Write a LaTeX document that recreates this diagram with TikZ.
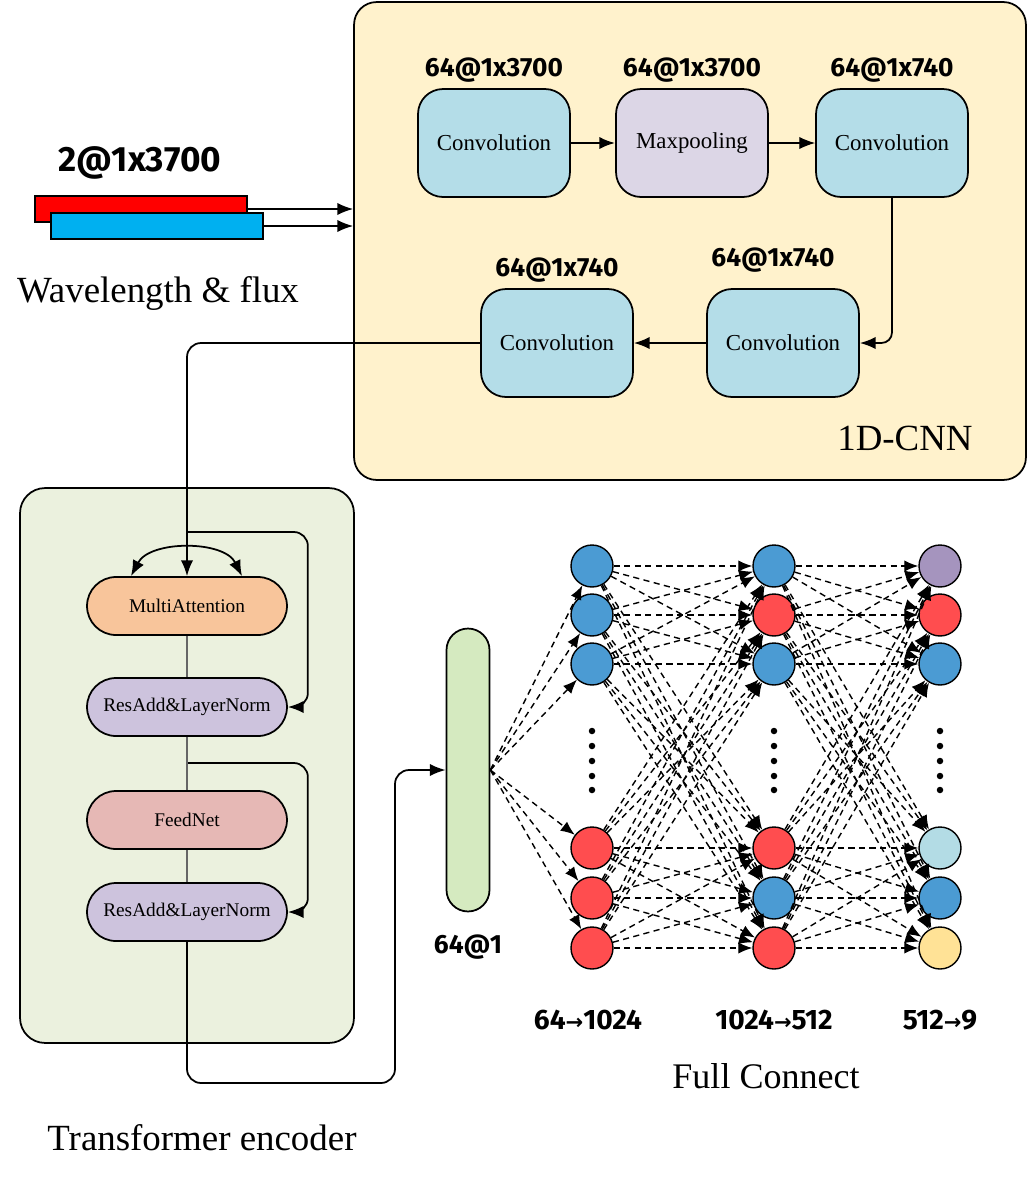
\documentclass[tikz,border=0pt]{standalone}
\usepackage{fontspec}
\setmainfont{Liberation Serif}
\newfontfamily\lblfont{Fira Sans}
\newfontfamily\arrfont{DejaVu Sans}
\usetikzlibrary{arrows.meta,calc,positioning}

\definecolor{cnnbg}{HTML}{FFF2CC}
\definecolor{convblue}{HTML}{B4DDE8}
\definecolor{poolpurple}{HTML}{DCD6E6}
\definecolor{trbg}{HTML}{EBF1DE}
\definecolor{attorange}{HTML}{F8C59B}
\definecolor{normpurple}{HTML}{CDC3DD}
\definecolor{feedpink}{HTML}{E6B8B5}
\definecolor{pillgreen}{HTML}{D5EAC0}
\definecolor{nodeblue}{HTML}{4B9BD3}
\definecolor{nodered}{HTML}{FF4D4F}
\definecolor{nodepurple}{HTML}{A594BE}
\definecolor{nodelight}{HTML}{B3DCE5}
\definecolor{nodeyellow}{HTML}{FFE296}
\definecolor{inred}{HTML}{FF0000}
\definecolor{inblue}{HTML}{00B0F0}

\tikzset{
	flow/.style={draw=black,line width=1pt,-{Latex[length=9pt,width=7pt]}},
	fcedge/.style={draw=black,line width=0.8pt,dash pattern=on 3.5pt off 2.5pt,-{Latex[length=8pt,width=6.5pt]}},
	cnnbox/.style={draw,line width=1pt,rounded corners=0.5cm,minimum width=3.04cm,minimum height=2.16cm,font=\fontsize{13}{15}\selectfont},
	trbox/.style={draw,line width=1pt,rounded corners=0.58cm,minimum width=4cm,minimum height=1.16cm,font=\fontsize{11}{13}\selectfont},
	neuron/.style={circle,draw,line width=0.8pt,minimum size=0.84cm,inner sep=0pt},
	shape lbl/.style={font=\lblfont\bfseries\fontsize{15}{17}\selectfont,inner sep=1pt},
	title lbl/.style={font=\fontsize{21}{25}\selectfont},
	dotmark/.style={circle,fill=black,minimum size=0.13cm,inner sep=0pt},
}

\begin{document}
\begin{tikzpicture}[x=0.02cm,y=-0.02cm]
	\useasboundingbox (0,0) rectangle (1028,1177);
	%
	% background panels
	\node[draw,line width=1pt,fill=cnnbg,rounded corners=0.45cm,minimum width=13.44cm,minimum height=9.56cm] (cnn) at (690,241) {};
	\node[draw,line width=1pt,fill=trbg,rounded corners=0.5cm,minimum width=6.68cm,minimum height=11.1cm] (tr) at (187,765.5) {};
	\node[title lbl] (cnnname) at (905,438) {1D-CNN};
	\node[title lbl] (trname) at (202,1138) {Transformer encoder};
	\node[title lbl,font=\fontsize{20.5}{24}\selectfont] (fcname) at (766,1076) {Full Connect};
	%
	% input spectra
	\node[draw,line width=0.6pt,fill=inred,minimum width=4.24cm,minimum height=0.52cm,inner sep=0pt] (red) at (141,209) {};
	\node[draw,line width=0.6pt,fill=inblue,minimum width=4.24cm,minimum height=0.52cm,inner sep=0pt] (blue) at (157,226) {};
	\node[shape lbl,font=\lblfont\bfseries\fontsize{20}{23}\selectfont] (inlbl) at (140,163) {2@1x3700};
	\node[title lbl] (inname) at (158,293) {Wavelength \& flux};
	\draw[flow] (red.east) -- (red.east -| cnn.west);
	\draw[flow] (blue.east) -- (blue.east -| cnn.west);
	%
	% 1D-CNN
	\node[cnnbox,fill=convblue] (cv1) at (494,143) {Convolution};
	\node[cnnbox,fill=poolpurple] (pool) at (692,143) {Maxpooling};
	\node[cnnbox,fill=convblue] (cv2) at (892,143) {Convolution};
	\node[cnnbox,fill=convblue] (cv3) at (783,343) {Convolution};
	\node[cnnbox,fill=convblue] (cv4) at (557,343) {Convolution};
	\node[shape lbl,above=2pt of cv1] {64@1x3700};
	\node[shape lbl,above=2pt of pool] {64@1x3700};
	\node[shape lbl,above=2pt of cv2] {64@1x740};
	\node[shape lbl,above=8pt of cv3,xshift=-0.2cm] {64@1x740};
	\node[shape lbl,above=2pt of cv4] {64@1x740};
	\draw[flow,line width=1.3pt] (cv1) -- (pool);
	\draw[flow,line width=0.7pt] (pool) -- (cv2);
	\draw[flow,rounded corners=6pt] (cv2.south) |- (cv3.east);
	\draw[flow] (cv3) -- (cv4);
	%
	% transformer encoder
	\node[trbox,fill=attorange] (ma) at (187,606) {MultiAttention};
	\node[trbox,fill=normpurple] (rn1) at (187,707) {ResAdd\&LayerNorm};
	\node[trbox,fill=feedpink] (ff) at (187,820) {FeedNet};
	\node[trbox,fill=normpurple] (rn2) at (187,912) {ResAdd\&LayerNorm};
	\draw[flow,rounded corners=8pt] (cv4.west) -| (ma.north);
	\draw[flow,{Latex[length=9pt,width=7pt]}-{Latex[length=9pt,width=7pt]}] ($(ma.north)+(-56,0)$) .. controls (150,540) and (224,540) .. ($(ma.north)+(55,0)$);
	\coordinate (skip1) at (187,532);
	\coordinate (skip2) at (187,763);
	\draw[flow,rounded corners=8pt] (skip1) -| ($(rn1.east)+(20,0)$) -- (rn1.east);
	\draw[flow,rounded corners=8pt] (skip2) -| ($(rn2.east)+(20,0)$) -- (rn2.east);
	\draw[black!60,line width=0.7pt] (ma) -- (rn1);
	\draw[black!60,line width=0.7pt] (rn1) -- (ff);
	\draw[black!60,line width=0.7pt] (ff) -- (rn2);
	%
	% full connect
	\node[draw,line width=1pt,fill=pillgreen,rounded corners=0.43cm,minimum width=0.86cm,minimum height=5.66cm] (pill) at (468,770) {};
	\node[shape lbl,below=0.4cm of pill] {64@1};
	\coordinate (low1) at (187,1083);
	\coordinate (low2) at (395,1083);
	\draw[flow,rounded corners=8pt] (rn2.south) -- (low1) -- (low2) |- (pill.west);
	%
	\foreach \i/\yy/\cc in {1/566/nodeblue,2/615/nodeblue,3/664/nodeblue,4/848/nodered,5/898/nodered,6/948/nodered}
		\node[neuron,fill=\cc] (a\i) at (592,\yy) {};
	\foreach \i/\yy/\cc in {1/566/nodeblue,2/615/nodered,3/664/nodeblue,4/848/nodered,5/898/nodeblue,6/948/nodered}
		\node[neuron,fill=\cc] (b\i) at (774,\yy) {};
	\foreach \i/\yy/\cc in {1/566/nodepurple,2/615/nodered,3/664/nodeblue,4/848/nodelight,5/898/nodeblue,6/948/nodeyellow}
		\node[neuron,fill=\cc] (c\i) at (940,\yy) {};
	\foreach \xx in {592,774,940}
		\foreach \yy in {731,746,761,776,790}
			\node[dotmark] at (\xx,\yy) {};
	%
	\foreach \i in {1,...,6}
		\draw[fcedge] (pill.east) -- (a\i);
	\foreach \i in {1,...,6}
		\foreach \j in {1,...,6}
		{
			\draw[fcedge] (a\i) -- (b\j);
			\draw[fcedge] (b\i) -- (c\j);
		}
	%
	\node[shape lbl,font=\lblfont\bfseries\fontsize{16}{18}\selectfont] (l1) at (588,1020) {64{\arrfont\fontsize{12}{14}\selectfont →}1024};
	\node[shape lbl,font=\lblfont\bfseries\fontsize{16}{18}\selectfont] (l2) at (774,1020) {1024{\arrfont\fontsize{12}{14}\selectfont →}512};
	\node[shape lbl,font=\lblfont\bfseries\fontsize{16}{18}\selectfont] (l3) at (940,1020) {512{\arrfont\fontsize{12}{14}\selectfont →}9};
\end{tikzpicture}
\end{document}
